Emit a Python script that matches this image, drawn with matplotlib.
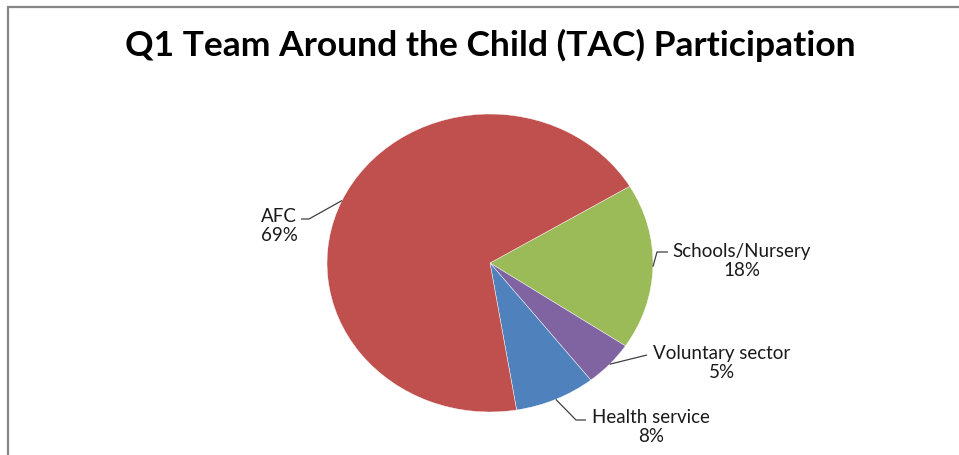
import numpy as np
import matplotlib.pyplot as plt
from matplotlib.patches import Rectangle

# TAC participation by agency, Q1 (clockwise from the green slice)
labels = ['Schools/Nursery', 'Voluntary sector', 'Health service', 'AFC']
shares = [18, 5, 8, 69]
colors = ['#9BBB59', '#8064A2', '#4F81BD', '#C0504D']

W, H = 959, 455
cx, cy = 490, 263      # pie centre, pixels from top-left
rx, ry = 163, 149      # pie radius in x / y, pixels
start = 31


def to_data(px, py):
    return (px - cx) / rx, (cy - py) / ry


# where each label block sits and where its leader line bends (pixels)
label_pos = [(742, 261), (722, 363), (651, 427), (279, 226)]
elbows = [[(657, 252), (668, 252)],
          [(647, 355)],
          [(576, 420), (586, 420)],
          [(309, 219), (301, 219)]]

plt.rcParams['font.family'] = ['Lato', 'DejaVu Sans']

fig = plt.figure(figsize=(W / 100, H / 100), dpi=100)
ax = fig.add_axes([0, 0, 1, 1])

wedges, _ = ax.pie(shares, colors=colors, startangle=start, counterclock=False,
                   radius=1, center=(0, 0), frame=True,
                   wedgeprops=dict(edgecolor='white', linewidth=0.3))
ax.set_xlim(-cx / rx, (W - cx) / rx)
ax.set_ylim((cy - H) / ry, cy / ry)
ax.set_aspect('auto')
ax.axis('off')

total = sum(shares)
for w, lab, val, pos, bend in zip(wedges, labels, shares, label_pos, elbows):
    mid = np.deg2rad((w.theta1 + w.theta2) / 2)
    pts = [(np.cos(mid), np.sin(mid))] + [to_data(*p) for p in bend]
    xs, ys = zip(*pts)
    ax.plot(xs, ys, color='#404040', lw=0.9, solid_capstyle='butt')
    tx, ty = to_data(*pos)
    ax.text(tx, ty, f'{lab}\n{round(100 * val / total)}%', ha='center',
            va='center', fontsize=13.5, linespacing=1.2, color='#1a1a1a')

fig.text(cx / W, 1 - 45 / H, 'Q1 Team Around the Child (TAC) Participation',
         ha='center', va='center', fontsize=25.5, fontweight='bold')

# chart area border (only the top and left edges fall inside the image)
fig.patches.append(Rectangle((7.5 / W, -0.1), 1.2, 1.1 - 7.5 / H,
                             transform=fig.transFigure, fill=False,
                             edgecolor='#868686', linewidth=1.6))

fig.savefig('out.png', dpi=100, facecolor='white')
